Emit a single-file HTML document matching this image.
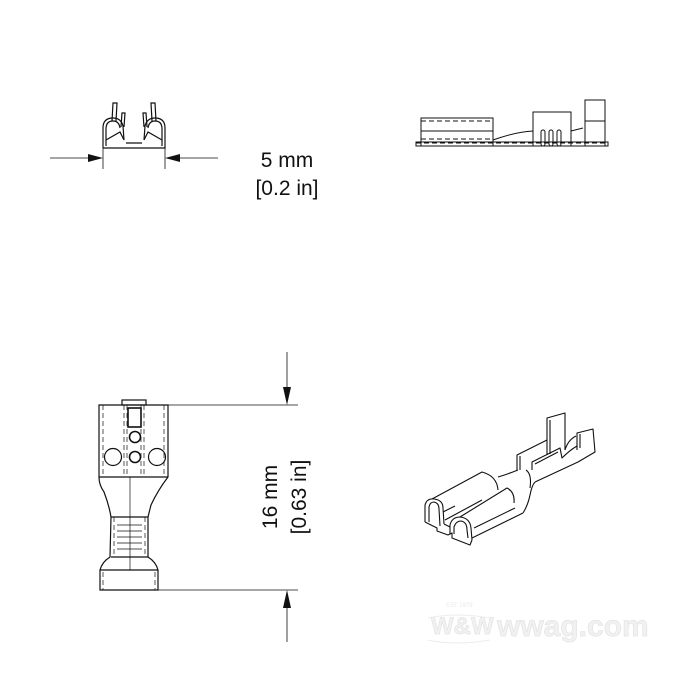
<!DOCTYPE html>
<html><head><meta charset="utf-8"><style>
html,body{margin:0;padding:0;background:#fff;}
svg{display:block;}
.t{font-family:"Liberation Sans Narrow","Liberation Sans",sans-serif;fill:#111;}
</style></head><body>
<svg width="700" height="700" viewBox="0 0 700 700" xmlns="http://www.w3.org/2000/svg">
<g fill="none" stroke="#111" stroke-width="1.2">
<path d="M103,148 L103,128 Q103,118 113,118 Q121,118 123,126 L124,140 M103,148 L165,148 L165,128 Q165,118 155,118 Q147,118 145,126 L144,140"/>
<path d="M106,146 L106,129 Q106,121 113,121 Q119,121 120,128 M162,146 L162,129 Q162,121 155,121 Q149,121 148,128"/>
<path d="M106,140 L120,132 L124,140 M162,140 L148,132 L144,140 M126,143 L142,143"/>
<path d="M112,121 L113,103 L117,103 L116,121 M121,127 L122,113 L125,113 L124,127 M152,121 L151,103 L155,103 L156,121 M147,127 L146,113 L143,113 L144,127"/>
<path d="M103,148 L103,169 M165,148 L165,169" stroke-width="0.8"/>
<path d="M50,158 L88,158 M180,158 L218,158" stroke-width="0.8"/>
</g>
<polygon points="103,158 88,154 88,162" fill="#111"/>
<polygon points="165,158 180,154 180,162" fill="#111"/>
<text class="t" x="287" y="167" font-size="21" text-anchor="middle">5 mm</text>
<text class="t" x="287" y="195" font-size="21" text-anchor="middle">[0.2 in]</text>

<g fill="none" stroke="#111" stroke-width="1">
<rect x="416" y="142" width="192" height="4"/>
<rect x="421" y="118" width="72" height="28"/>
<line x1="421" y1="131" x2="493" y2="131"/>
<line x1="421" y1="121" x2="493" y2="121" stroke-dasharray="5,3"/>
<line x1="421" y1="139" x2="493" y2="139" stroke-dasharray="5,3"/>
<rect x="533" y="112" width="38" height="34"/>
<path d="M493,140 Q515,132 533,131 M571,131 L583,128"/>
<rect x="585" y="100" width="20" height="46"/>
<line x1="585" y1="121" x2="605" y2="121"/>
<line x1="416" y1="143" x2="608" y2="143" stroke-dasharray="5,3"/>
<rect x="541" y="130" width="4" height="16" rx="2"/><rect x="549" y="130" width="4" height="16" rx="2"/><rect x="557" y="130" width="4" height="16" rx="2"/>
</g>

<g fill="none" stroke="#111" stroke-width="1.2">
<rect x="122" y="400" width="24" height="5"/>
<path d="M99,405 L168,405 L168,477 Q158,490 151,505 Q149,513 148,517 L148,557 Q156,562 158,570 L158,590 L100,590 L100,570 Q102,562 110,557 L111,517 Q109,505 104,492 Q99,485 99,477 Z"/>
<line x1="99" y1="477" x2="168" y2="477"/>
<rect x="128" y="408" width="13" height="19" stroke-width="1.6"/>
<circle cx="135" cy="437" r="5.5" stroke-width="1.6"/>
<circle cx="135" cy="457" r="5.5" stroke-width="1.6"/>
<circle cx="113" cy="457" r="8.5"/>
<circle cx="157" cy="457" r="8.5"/>
<line x1="111" y1="517" x2="148" y2="517"/>
<line x1="111" y1="557" x2="148" y2="557"/>
<line x1="100" y1="570" x2="158" y2="570"/>
<line x1="130" y1="477" x2="130" y2="570" stroke-width="0.7"/>
</g>
<g fill="none" stroke="#111" stroke-width="0.7" stroke-dasharray="5,3">
<line x1="103" y1="405" x2="103" y2="477"/><line x1="164" y1="405" x2="164" y2="477"/>
<line x1="124" y1="405" x2="124" y2="477"/><line x1="127" y1="405" x2="127" y2="477"/>
<line x1="141" y1="405" x2="141" y2="477"/><line x1="144" y1="405" x2="144" y2="477"/>
<line x1="114" y1="517" x2="114" y2="557"/><line x1="145" y1="517" x2="145" y2="557"/>
<line x1="103" y1="572" x2="103" y2="590"/><line x1="155" y1="572" x2="155" y2="590"/>
</g>
<g stroke="#111" stroke-width="0.8">
<line x1="117" y1="525" x2="142" y2="525"/><line x1="117" y1="531" x2="142" y2="531"/><line x1="117" y1="537" x2="142" y2="537"/><line x1="117" y1="543" x2="142" y2="543"/><line x1="117" y1="549" x2="142" y2="549"/>
<line x1="168" y1="405" x2="298" y2="405"/>
<line x1="158" y1="590" x2="298" y2="590"/>
<line x1="287" y1="352" x2="287" y2="390"/>
<line x1="287" y1="605" x2="287" y2="642"/>
</g>
<polygon points="287,405 283,387 291,387" fill="#111"/>
<polygon points="287,590 283,608 291,608" fill="#111"/>
<text class="t" transform="translate(277,497) rotate(-90)" font-size="21" text-anchor="middle">16 mm</text>
<text class="t" transform="translate(306,497) rotate(-90)" font-size="21" text-anchor="middle">[0.63 in]</text>

<!-- isometric -->
<g fill="none" stroke="#111" stroke-width="1.1" stroke-linejoin="round">
<!-- tall tab -->
<path d="M547,455 L547,418 L565,413 L565,450"/>
<path d="M550,420 L550,454"/>
<!-- right tab -->
<path d="M577,446 L577,433 L593,429 L595,452 L578,462 L535,482"/>
<path d="M580,434 L580,448"/>
<!-- left wing -->
<path d="M517,470 L517,455 L547,440"/>
<path d="M520,456 L520,470"/>
<!-- front wall -->
<path d="M532,470 L532,462 L560,448 L562,458 Q570,450 577,446 L577,450"/>
<path d="M535,464 L558,452"/>
<path d="M565,450 Q568,440 576,436"/>
<!-- neck -->
<path d="M498,477 Q508,474 518,470"/>
<path d="M523,513 Q528,505 530,495 Q532,485 535,482"/>
<path d="M526,470 Q532,474 530,488"/>
<!-- left barrel -->
<path d="M432,499 L482,472 Q497,476 498,490"/>
<path d="M425,522 L425,505 Q427,498 434,499 Q443,500 443,508 L444,524"/>
<path d="M429,522 L429,507 Q430,502 434,502 Q439,503 439,509 L440,526"/>
<!-- right barrel -->
<path d="M460,517 L507,488 Q515,492 514,503"/>
<path d="M472,538 L523,513"/>
<path d="M450,534 L450,525 Q452,517 460,517 Q470,518 471,528 L472,540"/>
<path d="M454,534 L454,527 Q456,521 461,521 Q467,522 467,530 L468,538"/>
<path d="M474,528 L515,508"/>
<!-- base plate -->
<path d="M425,522 L437,528 L437,531 L448,535 L452,533 L452,538 L470,545 L472,540"/>
<path d="M444,524 L450,527"/>
<path d="M443,512 L455,506 M445,520 L482,500"/>
</g>

<!-- watermark -->
<g style="fill:#f1f1f1;stroke:#e4e4e4;stroke-width:0.7" font-family="Liberation Sans Narrow, Liberation Sans, sans-serif" font-weight="bold">
<text x="497" y="636" font-size="30">wwag.com</text>
<text x="431" y="634" font-size="24">W&amp;W</text>
</g>
<path d="M428,618 Q455,612 490,618 M428,640 Q455,646 490,640" fill="none" stroke="#ececec" stroke-width="1"/>
<text x="446" y="607" font-size="6" style="fill:#e8e8e8" font-family="Liberation Sans, sans-serif">EST 1979</text>
</svg>
</body></html>
